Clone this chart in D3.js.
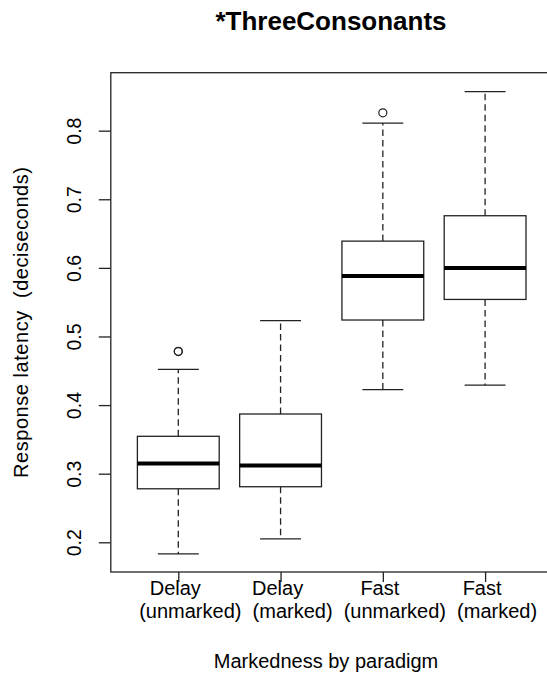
<!DOCTYPE html>
<html>
<head>
<meta charset="utf-8">
<title>ThreeConsonants</title>
<script src="https://cdn.jsdelivr.net/npm/d3@7"></script>
<style>
  body { margin: 0; background: #fff; }
  text { font-family: "Liberation Sans", Arial, sans-serif; fill: #000; }
</style>
</head>
<body>
<div id="chart"></div>
<script>
// box statistics, one entry per group
var labelTop    = ["Delay", "Delay", "Fast", "Fast"];
var labelBottom = ["(unmarked)", "(marked)", "(unmarked)", "(marked)"];
var lowWhisker  = [0.183, 0.205, 0.4225, 0.429];
var q1          = [0.278, 0.281, 0.524, 0.554];
var medians     = [0.315, 0.312, 0.588, 0.600];
var q3          = [0.3545, 0.387, 0.639, 0.676];
var highWhisker = [0.452, 0.523, 0.811, 0.857];
var outliers    = [[0.478, 0.4785], [], [0.826], []];
var yTicks      = [0.2, 0.3, 0.4, 0.5, 0.6, 0.7, 0.8];

var W = 547, H = 677;
var plot = {left: 110.8, right: 552.6, top: 72.7, bottom: 572};

var svg = d3.select("#chart").append("svg")
    .attr("width", W)
    .attr("height", H);

var x = d3.scaleLinear().domain([0.34, 4.66]).range([plot.left, plot.right]);
var y = d3.scaleLinear().domain([0.1567, 0.8845]).range([plot.bottom, plot.top]);

var boxes = labelTop.map(function(d, i) {
  return {i: i + 1, lo: lowWhisker[i], q1: q1[i], med: medians[i], q3: q3[i], hi: highWhisker[i], out: outliers[i]};
});

var boxW = 0.8, capW = 0.4;
var ink = "#222";

var g = svg.append("g");

// whiskers (dashed)
g.selectAll(".whisk-lo").data(boxes).enter().append("line")
  .attr("x1", d => x(d.i)).attr("x2", d => x(d.i))
  .attr("y1", d => y(d.q1)).attr("y2", d => y(d.lo))
  .attr("stroke", ink).attr("stroke-width", 1.3).attr("stroke-dasharray", "6.5,4");
g.selectAll(".whisk-hi").data(boxes).enter().append("line")
  .attr("x1", d => x(d.i)).attr("x2", d => x(d.i))
  .attr("y1", d => y(d.q3)).attr("y2", d => y(d.hi))
  .attr("stroke", ink).attr("stroke-width", 1.3).attr("stroke-dasharray", "6.5,4");

// staples
g.selectAll(".cap-lo").data(boxes).enter().append("line")
  .attr("x1", d => x(d.i - capW / 2)).attr("x2", d => x(d.i + capW / 2))
  .attr("y1", d => y(d.lo)).attr("y2", d => y(d.lo))
  .attr("stroke", ink).attr("stroke-width", 1.3);
g.selectAll(".cap-hi").data(boxes).enter().append("line")
  .attr("x1", d => x(d.i - capW / 2)).attr("x2", d => x(d.i + capW / 2))
  .attr("y1", d => y(d.hi)).attr("y2", d => y(d.hi))
  .attr("stroke", ink).attr("stroke-width", 1.3);

// boxes
g.selectAll(".box").data(boxes).enter().append("rect")
  .attr("x", d => x(d.i - boxW / 2))
  .attr("width", d => x(d.i + boxW / 2) - x(d.i - boxW / 2))
  .attr("y", d => y(d.q3))
  .attr("height", d => y(d.q1) - y(d.q3))
  .attr("fill", "#fff").attr("stroke", ink).attr("stroke-width", 1.3);

// medians
g.selectAll(".med").data(boxes).enter().append("line")
  .attr("x1", d => x(d.i - boxW / 2)).attr("x2", d => x(d.i + boxW / 2))
  .attr("y1", d => y(d.med)).attr("y2", d => y(d.med))
  .attr("stroke", "#000").attr("stroke-width", 4);

// outliers
var outPts = [];
boxes.forEach(function(d) { d.out.forEach(function(v) { outPts.push({i: d.i, v: v}); }); });
g.selectAll(".out").data(outPts).enter().append("circle")
  .attr("cx", d => x(d.i)).attr("cy", d => y(d.v)).attr("r", 4)
  .attr("fill", "none").attr("stroke", ink).attr("stroke-width", 1.2);

// frame
svg.append("rect")
  .attr("x", plot.left).attr("y", plot.top)
  .attr("width", plot.right - plot.left).attr("height", plot.bottom - plot.top)
  .attr("fill", "none").attr("stroke", ink).attr("stroke-width", 1.3);

// y axis
var yAxis = svg.append("g")
  .attr("transform", "translate(" + plot.left + ",0)")
  .call(d3.axisLeft(y).tickValues(yTicks).tickSize(12).tickFormat(d3.format(".1f")));
yAxis.select(".domain").remove();
yAxis.selectAll(".tick line").attr("stroke", ink).attr("stroke-width", 1.3);
yAxis.selectAll(".tick text")
  .attr("transform", "rotate(-90)")
  .attr("x", 0).attr("y", -29.5).attr("dy", 0)
  .attr("text-anchor", "middle")
  .style("font-size", "19.5px");

// x axis, two-line labels (second line sits a bit right, as in the original)
var xAxis = svg.append("g")
  .attr("transform", "translate(0," + plot.bottom + ")")
  .call(d3.axisBottom(x).tickValues([1, 2, 3, 4]).tickSize(10).tickFormat(""));
xAxis.select(".domain").remove();
xAxis.selectAll(".tick line").attr("stroke", ink).attr("stroke-width", 1.3);
xAxis.selectAll(".tick").each(function(d, i) {
  var t = d3.select(this).append("text")
    .attr("text-anchor", "middle")
    .style("font-size", "20px");
  t.append("tspan").attr("x", -3.5).attr("y", 22.5).text(labelTop[i]);
  t.append("tspan").attr("x", 11.5).attr("y", 45.5).text(labelBottom[i]);
});

// titles
svg.append("text")
  .attr("x", 331).attr("y", 30)
  .attr("text-anchor", "middle")
  .style("font-size", "26px").style("font-weight", "bold")
  .text("*ThreeConsonants");

svg.append("text")
  .attr("x", 326).attr("y", 668)
  .attr("text-anchor", "middle")
  .style("font-size", "20px")
  .text("Markedness by paradigm");

svg.append("text")
  .attr("transform", "translate(28.3,322.5) rotate(-90)")
  .attr("text-anchor", "middle")
  .attr("textLength", 311).attr("lengthAdjust", "spacing")
  .style("font-size", "20px")
  .style("white-space", "pre")
  .text("Response latency  (deciseconds)");
</script>
</body>
</html>
